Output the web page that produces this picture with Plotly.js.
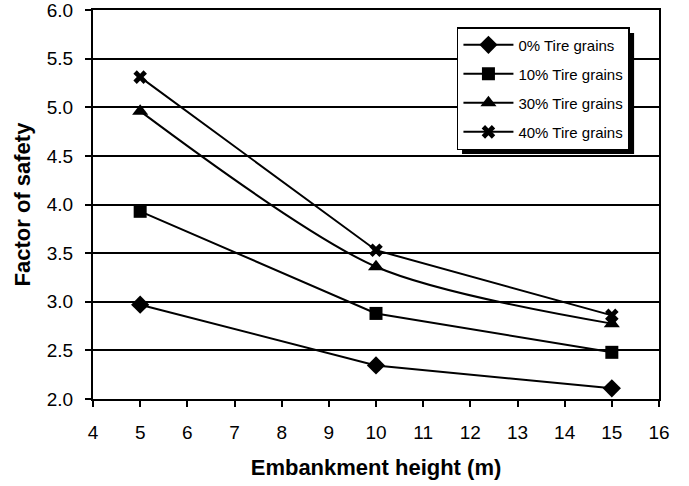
<!DOCTYPE html>
<html>
<head>
<meta charset="utf-8">
<script src="https://cdn.plot.ly/plotly-3.0.1.min.js"></script>
<style>html,body{margin:0;padding:0;background:#fff;}#chart{width:689px;height:486px;}</style>
</head>
<body>
<div id="chart"></div>
<script>
const heights = [5, 10, 15];
const seriesNames = ["0% Tire grains", "10% Tire grains", "30% Tire grains", "40% Tire grains"];
const fos0 = [2.97, 2.345, 2.11];
const fos10 = [3.93, 2.88, 2.48];
const fos30 = [4.96, 3.36, 2.775];
const fos40 = [5.31, 3.53, 2.86];
const xTicks = [4, 5, 6, 7, 8, 9, 10, 11, 12, 13, 14, 15, 16];
const yTicks = [2.0, 2.5, 3.0, 3.5, 4.0, 4.5, 5.0, 5.5, 6.0];

const symbols = ["diamond", "square", "triangle-up", "x"];
const sizes = [14, 13, 14, 12];
const shapes = ["linear", "linear", "spline", "linear"];
const allY = [fos0, fos10, fos30, fos40];

const traces = allY.map((ys, i) => ({
  x: heights, y: ys, name: seriesNames[i], type: "scatter", mode: "lines+markers",
  legendgroup: "g" + i,
  line: {color: "#000", width: 2, shape: shapes[i], smoothing: 0.8},
  marker: {symbol: symbols[i], size: sizes[i], color: "#000", line: {color: "#000", width: 0}}
}));

const FONT = "Liberation Sans, Arial, sans-serif";
const layout = {
  width: 689, height: 486,
  margin: {l: 93, r: 30, t: 10, b: 87},
  paper_bgcolor: "#fff", plot_bgcolor: "#fff",
  font: {family: FONT, color: "#000", size: 19},
  showlegend: true,
  legend: {
    x: 0.643, y: 0.956, xanchor: "left", yanchor: "top",
    bgcolor: "#fff", bordercolor: "#000", borderwidth: 1.5,
    font: {size: 15, family: FONT},
    traceorder: "grouped", tracegroupgap: 6.5, itemwidth: 50
  },
  xaxis: {
    range: [4, 16], tickvals: xTicks, ticktext: xTicks.map(String),
    showgrid: false, zeroline: false,
    showline: true, linecolor: "#000", linewidth: 2, mirror: true,
    ticks: "outside", ticklen: 6, tickwidth: 2, tickcolor: "#000",
    tickfont: {size: 19}, ticklabelstandoff: 9, ticklabeloverflow: "allow",
    title: {text: "<b>Embankment height (m)</b>", font: {size: 22}, standoff: 18}
  },
  yaxis: {
    range: [2, 6], tickvals: yTicks, ticktext: yTicks.map(v => v.toFixed(1)),
    showgrid: true, gridcolor: "#000", gridwidth: 2, zeroline: false,
    showline: true, linecolor: "#000", linewidth: 2, mirror: true,
    ticks: "outside", ticklen: 6, tickwidth: 2, tickcolor: "#000",
    tickfont: {size: 19}, ticklabelstandoff: 8, ticklabeloverflow: "allow",
    title: {text: "<b>Factor of safety</b>", font: {size: 22}, standoff: 10}
  },
  shapes: [{
    type: "rect", xref: "paper", yref: "paper", layer: "above",
    x0: 0.652, x1: 0.956, y0: 0.630, y1: 0.941,
    fillcolor: "#000", line: {width: 0}
  }]
};

Plotly.newPlot("chart", traces, layout, {displayModeBar: false, staticPlot: true});
</script>
</body>
</html>
